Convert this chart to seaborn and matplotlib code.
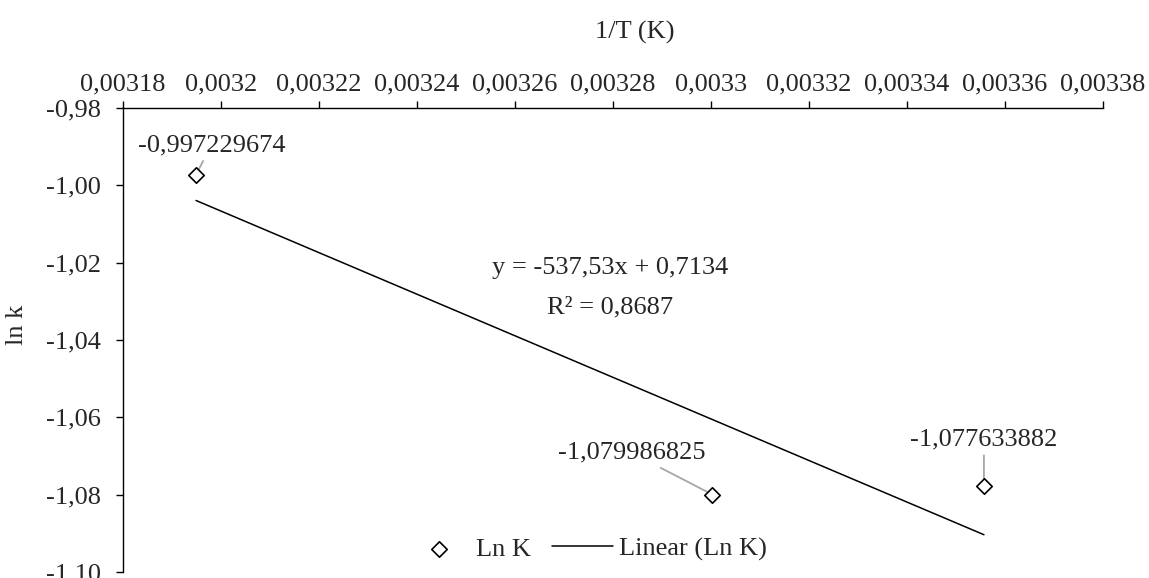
#!/usr/bin/env python3
"""
Arrhenius-type plot: ln k against 1/T with linear trendline.
Writes out.png
"""

import matplotlib
matplotlib.use("Agg")

import pandas as pd
import seaborn as sns
import matplotlib.pyplot as plt
from matplotlib.ticker import FixedLocator, FixedFormatter


# data
inv_T = [0.0031949, 0.0033003, 0.0033557]
ln_k = [-0.997229674, -1.079986825, -1.077633882]
point_labels = ["-0,997229674", "-1,079986825", "-1,077633882"]
# label offsets in points (dx, dy) from each marker
label_offsets = [(11, 21), (-58, 30), (0, 33)]

x_ticks = [0.00318, 0.00320, 0.00322, 0.00324, 0.00326, 0.00328,
           0.00330, 0.00332, 0.00334, 0.00336, 0.00338]
x_tick_labels = ["0,00318", "0,0032", "0,00322", "0,00324", "0,00326", "0,00328",
                 "0,0033", "0,00332", "0,00334", "0,00336", "0,00338"]
y_ticks = [-0.98, -1.00, -1.02, -1.04, -1.06, -1.08, -1.10]
y_tick_labels = ["-0,98", "-1,00", "-1,02", "-1,04", "-1,06", "-1,08", "-1,10"]

equation = "y = -537,53x + 0,7134"
r_squared = "R² = 0,8687"

W, H = 1149, 578


def main():
    sns.set_theme(style="white")
    plt.rcParams["font.family"] = ["Liberation Serif", "DejaVu Serif"]
    plt.rcParams["font.size"] = 19

    df = pd.DataFrame({"inv_T": inv_T, "ln_k": ln_k})

    fig = plt.figure(figsize=(W / 100, H / 100), dpi=100)
    left, right, top, bottom = 123, 1103, 108, 572
    ax = fig.add_axes([left / W, (H - bottom) / H, (right - left) / W, (bottom - top) / H])

    sns.regplot(
        data=df, x="inv_T", y="ln_k",
        scatter=False, ci=None, truncate=True,
        label="Linear (Ln K)",
        line_kws=dict(color="black", lw=1.1),
        ax=ax,
    )
    sns.scatterplot(
        data=df, x="inv_T", y="ln_k",
        marker="D", s=62, facecolor="white", edgecolor="black", linewidth=1.2,
        label="Ln K", zorder=5, ax=ax,
    )

    # data labels with grey leader lines
    for x, y, txt, (dx, dy) in zip(inv_T, ln_k, point_labels, label_offsets):
        ax.annotate(
            txt, xy=(x, y), xytext=(dx, dy), textcoords="offset points",
            ha="center", va="center", fontsize=19,
            arrowprops=dict(arrowstyle="-", color="#a6a6a6", lw=1.3,
                            shrinkA=1, shrinkB=2),
        )

    ax.text(0.497, 0.655, equation, transform=ax.transAxes,
            ha="center", va="center", fontsize=19)
    ax.text(0.497, 0.571, r_squared, transform=ax.transAxes,
            ha="center", va="center", fontsize=19)

    ax.set_xlim(0.00318, 0.00338)
    ax.set_ylim(-1.10, -0.98)
    ax.xaxis.set_major_locator(FixedLocator(x_ticks))
    ax.xaxis.set_major_formatter(FixedFormatter(x_tick_labels))
    ax.yaxis.set_major_locator(FixedLocator(y_ticks))
    ax.yaxis.set_major_formatter(FixedFormatter(y_tick_labels))

    ax.xaxis.tick_top()
    ax.xaxis.set_label_position("top")
    ax.tick_params(axis="x", which="both", direction="out", length=5, width=1,
                   color="black", pad=4, labelsize=19, top=True, bottom=False)
    ax.tick_params(axis="y", which="both", direction="out", length=5, width=1,
                   color="black", pad=11, labelsize=19, left=True)

    for side in ["right", "bottom"]:
        ax.spines[side].set_visible(False)
    for side in ["left", "top"]:
        ax.spines[side].set_color("black")
        ax.spines[side].set_linewidth(1)

    ax.set_xlabel("1/T (K)", fontsize=19)
    ax.xaxis.set_label_coords((635 - left) / (right - left), (bottom - 32) / (bottom - top))
    ax.xaxis.label.set_verticalalignment("center")
    ax.set_ylabel("ln k", fontsize=19)
    ax.yaxis.set_label_coords((17 - left) / (right - left), (bottom - 325) / (bottom - top))
    ax.yaxis.label.set_verticalalignment("center")

    handles, labels = ax.get_legend_handles_labels()
    order = [labels.index("Ln K"), labels.index("Linear (Ln K)")]
    ax.legend(
        [handles[i] for i in order], [labels[i] for i in order],
        loc="center", bbox_to_anchor=(588 / W, 1 - 549 / H),
        bbox_transform=fig.transFigure, ncol=2, frameon=False,
        handlelength=2.3, handletextpad=0.25, columnspacing=0.8, fontsize=19,
    )

    fig.savefig("out.png", dpi=100)
    plt.close(fig)


if __name__ == "__main__":
    main()
